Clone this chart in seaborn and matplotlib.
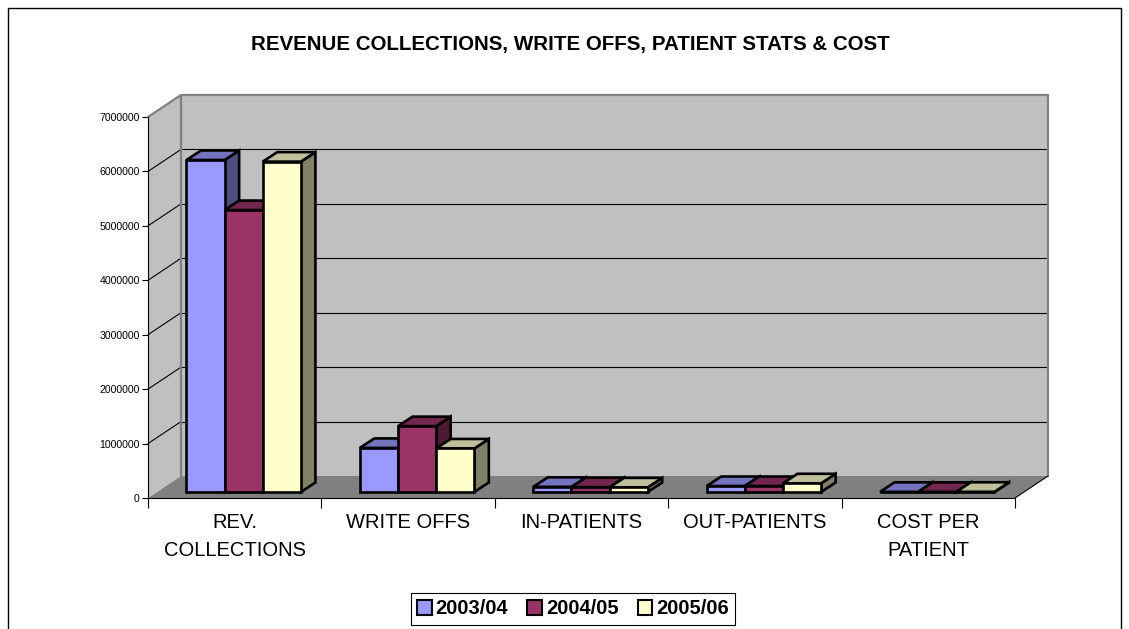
import matplotlib
matplotlib.use("Agg")
import matplotlib.pyplot as plt
import seaborn as sns
import pandas as pd
import numpy as np
from matplotlib.patches import Polygon, Rectangle, Patch

# ---------------- data ----------------
categories = ["REV.\nCOLLECTIONS", "WRITE OFFS", "IN-PATIENTS", "OUT-PATIENTS", "COST PER\nPATIENT"]
years = ["2003/04", "2004/05", "2005/06"]
values_2003_04 = [6100000, 810000, 95000, 110000, 3000]
values_2004_05 = [5180000, 1210000, 90000, 110000, 3500]
values_2005_06 = [6070000, 800000, 85000, 160000, 4000]
y_ticks = [0, 1000000, 2000000, 3000000, 4000000, 5000000, 6000000, 7000000]
title = "REVENUE COLLECTIONS, WRITE OFFS, PATIENT STATS & COST"

front_colors = ["#9999FF", "#993366", "#FFFFCC"]
top_colors = ["#7373BF", "#73264D", "#BFBF99"]
side_colors = ["#4D4D80", "#4D1A33", "#808066"]

sns.set_style("ticks")
plt.rcParams["font.family"] = ["Liberation Sans", "DejaVu Sans"]
plt.rcParams["text.color"] = "black"
plt.rcParams["xtick.labelcolor"] = "black"
plt.rcParams["ytick.labelcolor"] = "black"

W, H = 1129, 629
fig = plt.figure(figsize=(W / 100, H / 100), dpi=100)
L, R, T, B = 148, 1015, 117, 498
ax = fig.add_axes([L / W, 1 - B / H, (R - L) / W, (B - T) / H])
ax.set_facecolor("none")
ax.set_xlim(-0.5, 4.5)
ax.set_ylim(0, 7000000)

px_x = (R - L) / 5.0
px_y = (B - T) / 7000000.0
def dxu(p):
    return p / px_x
def dyu(p):
    return p / px_y

DX, DY = dxu(33), dyu(22)  # full depth
wall_c = "#C0C0C0"
floor_c = "#808080"
edge_gray = "#808080"

# walls
ax.add_patch(Rectangle((-0.5 + DX, DY), 5, 7000000, fc=wall_c, ec="none", zorder=0.5, clip_on=False))
ax.add_patch(Polygon([(-0.5, 0), (-0.5, 7000000), (-0.5 + DX, 7000000 + DY), (-0.5 + DX, DY)],
                     closed=True, fc=wall_c, ec="none", zorder=0.5, clip_on=False))
ax.add_patch(Polygon([(-0.5, 0), (4.5, 0), (4.5 + DX, DY), (-0.5 + DX, DY)],
                     closed=True, fc=floor_c, ec="none", zorder=0.6, clip_on=False))
for v in y_ticks[1:-1]:
    ax.plot([-0.5 + DX, 4.5 + DX], [v + DY, v + DY], color="black", lw=0.8, zorder=1, clip_on=False)
    ax.plot([-0.5, -0.5 + DX], [v, v + DY], color="black", lw=0.8, zorder=1, clip_on=False)
# wall borders
ax.plot([-0.5, -0.5 + DX, 4.5 + DX, 4.5 + DX], [7000000, 7000000 + DY, 7000000 + DY, DY],
        color=edge_gray, lw=1.6, zorder=1.1, clip_on=False)
ax.plot([-0.5 + DX, -0.5 + DX], [7000000 + DY, DY], color=edge_gray, lw=1.6, zorder=1.1, clip_on=False)
ax.plot([4.5, 4.5 + DX], [0, DY], color="black", lw=0.8, zorder=1.1, clip_on=False)

# bars
df = pd.DataFrame({
    "category": categories * 3,
    "year": np.repeat(years, len(categories)),
    "value": values_2003_04 + values_2004_05 + values_2005_06,
})
sns.barplot(data=df, x="category", y="value", hue="year", order=categories, hue_order=years,
            palette=front_colors, width=0.66, errorbar=None, saturation=1,
            edgecolor="black", linewidth=1.9, ax=ax, legend=False)

fx, fy = dxu(9), dyu(6)      # bar front offset
bx, by = dxu(14.5), dyu(9.5)  # bar depth
for i, cont in enumerate(ax.containers):
    for bar in cont:
        x0 = bar.get_x() + fx
        w = bar.get_width()
        h = bar.get_height()
        bar.set_x(x0)
        bar.set_y(fy)
        bar.set_zorder(3 + 2 * i)
        bar.set_clip_on(False)
        x1 = x0 + w
        y0, y1 = fy, fy + h
        ax.add_patch(Polygon([(x1, y0), (x1, y1), (x1 + bx, y1 + by), (x1 + bx, y0 + by)], closed=True,
                             fc=side_colors[i], ec="black", lw=1.9, zorder=2 + 2 * i, clip_on=False))
        ax.add_patch(Polygon([(x0, y1), (x1, y1), (x1 + bx, y1 + by), (x0 + bx, y1 + by)], closed=True,
                             fc=top_colors[i], ec="black", lw=1.9, zorder=2 + 2 * i, clip_on=False))

# axes styling
ax.set_xlabel("")
ax.set_ylabel("")
ax.set_yticks(y_ticks)
ax.set_yticklabels([str(v) for v in y_ticks])
ax.tick_params(axis="y", direction="out", length=4, width=0.8, pad=2, labelsize=7.6,
               color="black", labelcolor="black")
ax.set_xticks(range(len(categories)))
ax.set_xticklabels(categories)
ax.tick_params(axis="x", which="major", length=0, pad=11, labelsize=14.5, labelcolor="black")
ax.set_xticks(np.arange(-0.5, len(categories) + 0.5, 1), minor=True)
ax.tick_params(axis="x", which="minor", length=7, width=0.8, direction="out", color="black")
for lbl in ax.get_xticklabels():
    lbl.set_linespacing(1.55)
for s in ["top", "right"]:
    ax.spines[s].set_visible(False)
for s in ["left", "bottom"]:
    ax.spines[s].set_color("black")
    ax.spines[s].set_linewidth(0.8)
    ax.spines[s].set_zorder(1.2)

fig.text(570 / W, 1 - 50 / H, title, ha="center", va="baseline", fontsize=14.8, fontweight="bold",
         color="black")

handles = [Patch(facecolor=c, edgecolor="black", linewidth=1.5) for c in front_colors]
leg = fig.legend(handles, years, loc="center", bbox_to_anchor=(573 / W, 1 - 609 / H), ncol=3,
                 frameon=True, fancybox=False, edgecolor="black", framealpha=1,
                 prop={"weight": "bold", "size": 14.5}, handlelength=0.72, handleheight=0.72,
                 handletextpad=0.2, columnspacing=0.95, borderpad=0.3, borderaxespad=0)
leg.get_frame().set_linewidth(0.8)
for t in leg.get_texts():
    t.set_color("black")

fig.add_artist(Rectangle((8 / W, -0.01), (1121 - 8) / W, (H - 8) / H + 0.01, transform=fig.transFigure,
                         fill=False, ec="black", lw=1))

fig.savefig("out.png", dpi=100)
